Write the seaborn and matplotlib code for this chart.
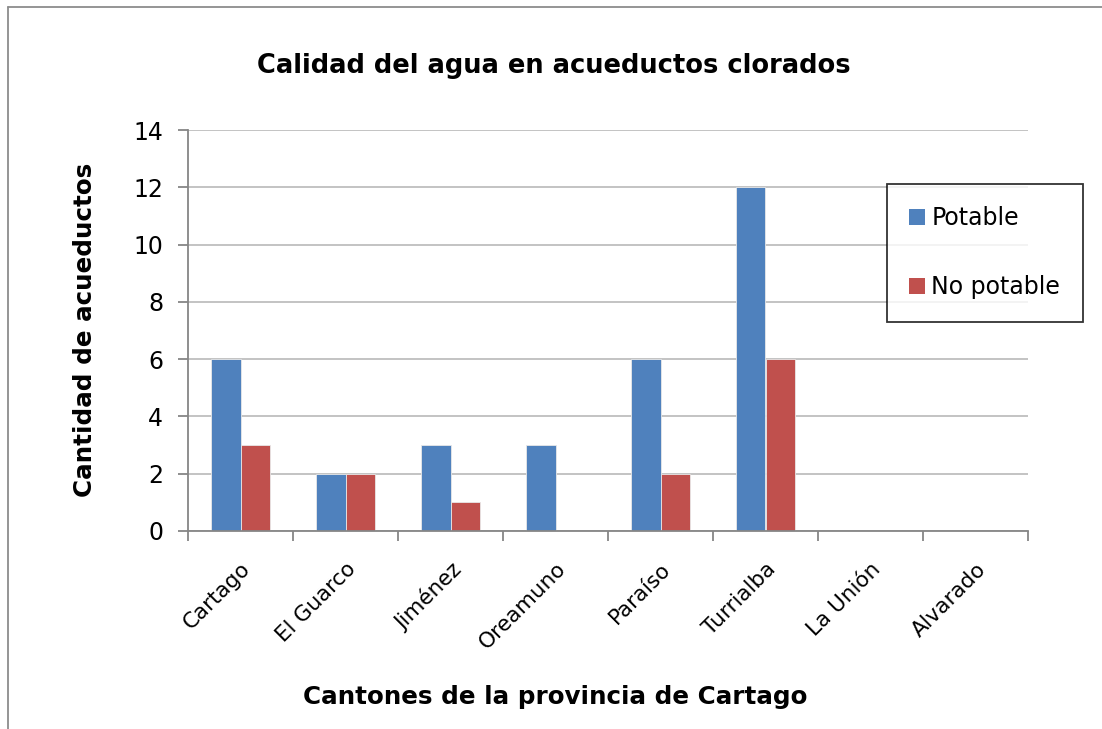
import matplotlib
matplotlib.use("Agg")
import matplotlib.pyplot as plt
import seaborn as sns
import pandas as pd
from matplotlib.patches import Patch
from matplotlib.lines import Line2D

cantones = ["Cartago", "El Guarco", "Jiménez", "Oreamuno", "Paraíso", "Turrialba", "La Unión", "Alvarado"]
potable = [6, 2, 3, 3, 6, 12, 0, 0]
no_potable = [3, 2, 1, 0, 2, 6, 0, 0]
series = ["Potable", "No potable"]
colors = ["#4F81BD", "#C0504D"]
yticks = [0, 2, 4, 6, 8, 10, 12, 14]

df = pd.DataFrame({
    "Canton": cantones * 2,
    "Valor": potable + no_potable,
    "Serie": [series[0]] * len(cantones) + [series[1]] * len(cantones),
})

sns.set_style("white")
plt.rcParams["font.family"] = ["DejaVu Sans"]
plt.rcParams["text.color"] = "black"
plt.rcParams["xtick.color"] = "black"
plt.rcParams["ytick.color"] = "black"

W, H = 1102, 729
fig = plt.figure(figsize=(W / 100, H / 100), dpi=100)
ax = fig.add_axes([188 / W, 1 - 531 / H, (1028 - 188) / W, (531 - 130) / H])

sns.barplot(data=df, x="Canton", y="Valor", hue="Serie", order=cantones,
            hue_order=series, palette=colors, width=0.565, ax=ax,
            legend=False, saturation=1, linewidth=0.6, edgecolor="#E8E8E8")

ax.set_ylim(0, 14)
ax.set_xlim(-0.5, len(cantones) - 0.5)
ax.set_yticks(yticks)
ax.set_yticklabels([str(v) for v in yticks], fontsize=17)
ax.yaxis.grid(True, color="#BEBEBE", linewidth=1.3)
ax.set_axisbelow(True)

for s in ["top", "right"]:
    ax.spines[s].set_visible(False)
for s in ["left", "bottom"]:
    ax.spines[s].set_color("#868686")
    ax.spines[s].set_linewidth(1.3)

ax.tick_params(axis="y", left=True, length=7, width=1.3, color="#868686",
               labelcolor="black", pad=11)
ax.set_xticks(range(len(cantones)))
ax.set_xticklabels(cantones, fontsize=15.5, rotation=45, ha="right", rotation_mode="anchor")
ax.tick_params(axis="x", which="major", length=0, pad=20, labelcolor="black")
ax.set_xticks([i - 0.5 for i in range(len(cantones) + 1)], minor=True)
ax.tick_params(axis="x", which="minor", bottom=True, length=7, width=1.3, color="#868686")
ax.set_xlabel("")
ax.set_ylabel("")

fig.text(554 / W, 1 - 66 / H, "Calidad del agua en acueductos clorados",
         ha="center", va="center", fontsize=18.5, fontweight="bold", color="black")
fig.text(555 / W, 1 - 697 / H, "Cantones de la provincia de Cartago",
         ha="center", va="center", fontsize=17.7, fontweight="bold", color="black")
fig.text(85 / W, 1 - 330 / H, "Cantidad de acueductos",
         ha="center", va="center", rotation=90, fontsize=17.7, fontweight="bold", color="black")

handles = [Patch(facecolor=c, edgecolor="none") for c in colors]
leg = fig.legend(handles, series, loc="upper left",
                 bbox_to_anchor=(887 / W, 1 - 184 / H), fontsize=17,
                 frameon=True, fancybox=False, borderaxespad=0,
                 handlelength=0.68, handleheight=0.68, handletextpad=0.25,
                 labelspacing=1.9, borderpad=0.95)
leg.get_frame().set_edgecolor("black")
leg.get_frame().set_linewidth(1.3)
for t in leg.get_texts():
    t.set_color("black")

fig.lines.append(Line2D([8 / W, 1.0], [1 - 7 / H, 1 - 7 / H], transform=fig.transFigure,
                        color="#8C8C8C", linewidth=1.3))
fig.lines.append(Line2D([8 / W, 8 / W], [0.0, 1 - 7 / H], transform=fig.transFigure,
                        color="#8C8C8C", linewidth=1.3))

fig.savefig("out.png", dpi=100, facecolor="white")
